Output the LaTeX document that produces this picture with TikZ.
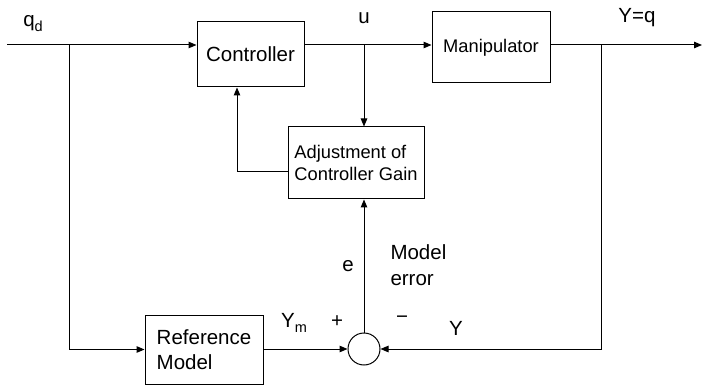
\documentclass[tikz,border=0pt]{standalone}
\usepackage{fontspec}
\setmainfont{Liberation Sans}
\usetikzlibrary{arrows.meta}
\newcommand{\mysub}[1]{\raisebox{-5pt}{\fontsize{14.5}{15}\selectfont #1}}
\begin{document}
\begin{tikzpicture}[x=1pt,y=-1pt,
  line width=1pt,
  blk/.style={draw, line width=1pt, inner sep=0pt, font=\fontsize{20.5}{25}\selectfont},
  smallblk/.style={blk, font=\fontsize{18.3}{22}\selectfont},
  lbl/.style={inner sep=0pt, font=\fontsize{20.5}{26}\selectfont},
  arr/.style={-{Triangle[length=8pt,width=6.5pt]}}]
\useasboundingbox (0,0) rectangle (702,385);
% blocks
\node[blk, minimum width=107pt, minimum height=65pt] (ctrl) at (250.5,54.5) {Controller};
\node[smallblk, minimum width=118pt, minimum height=71pt] (manip) at (491,47.5) {Manipulator};
\node[smallblk, minimum width=136pt, minimum height=72pt, align=left] (adj) at (356,163) {Adjustment of\\Controller Gain};
\node[blk, minimum width=118pt, minimum height=69pt, align=left] (ref) at (204,349.5) {Reference\\Model};
\node[draw, circle, minimum size=32pt, inner sep=0pt] (sum) at (364,349) {};
% coordinates
\coordinate (start) at (7,45);
\coordinate (stop) at (702,45);
\coordinate (bq) at (69,45);
\coordinate (bu) at (364,45);
\coordinate (by) at (601,45);
\coordinate (fb) at (237,172);
% connectors
\draw[arr] (start) -- (ctrl.west |- start);
\draw[arr] (ctrl.east |- start) -- (manip.west |- start);
\draw[arr] (manip.east |- start) -- (stop);
\draw[arr] (bq) |- (ref.west);
\draw[arr] (bu) -- (bu |- adj.north);
\draw[arr] (by) |- (sum.east);
\draw[arr] (ref.east |- sum) -- (sum.west);
\draw[arr] (sum.north) -- (sum.north |- adj.south);
\draw[arr] (adj.west |- fb) -- (fb) -- (fb |- ctrl.south);
% labels
\node[lbl] (lq) at (33,24) {q\mysub{d}};
\node[lbl] (lu) at (364,18) {u};
\node[lbl] (ly) at (637,18) {Y=q};
\node[lbl] (lym) at (294,323) {Y\mysub{m}};
\node[lbl] (lp) at (337,322) {+};
\node[lbl] (lm) at (402,320) {−};
\node[lbl] (le) at (348,266) {e};
\node[lbl, anchor=west, align=left] (lme) at (390,265) {Model\\error};
\node[lbl] (lyy) at (456,328) {Y};
\end{tikzpicture}
\end{document}
